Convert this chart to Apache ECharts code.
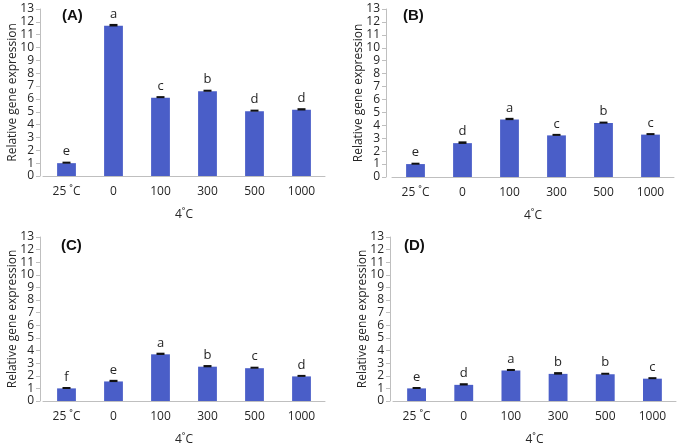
<!DOCTYPE html>
<html>
<head>
<meta charset="utf-8">
<script src="https://cdn.jsdelivr.net/npm/echarts@6/dist/echarts.min.js"></script>
<style>
html, body { margin: 0; padding: 0; background: #fff; }
#main { width: 677px; height: 447px; }
</style>
</head>
<body>
<div id="main"></div>
<script>
var categories = ['25 ˚C', '0', '100', '300', '500', '1000'];
var yTicks = [0, 1, 2, 3, 4, 5, 6, 7, 8, 9, 10, 11, 12, 13];

var valuesA = [1.0, 11.7, 6.1, 6.6, 5.05, 5.15];
var errorsA = [0.04, 0.06, 0.04, 0.04, 0.04, 0.05];
var lettersA = ['e', 'a', 'c', 'b', 'd', 'd'];

var valuesB = [1.0, 2.62, 4.45, 3.22, 4.17, 3.28];
var errorsB = [0.03, 0.06, 0.05, 0.04, 0.04, 0.04];
var lettersB = ['e', 'd', 'a', 'c', 'b', 'c'];

var valuesC = [1.0, 1.55, 3.7, 2.72, 2.6, 1.95];
var errorsC = [0.03, 0.05, 0.05, 0.05, 0.04, 0.04];
var lettersC = ['f', 'e', 'a', 'b', 'c', 'd'];

var valuesD = [1.0, 1.28, 2.42, 2.15, 2.12, 1.77];
var errorsD = [0.03, 0.05, 0.04, 0.06, 0.04, 0.04];
var lettersD = ['e', 'd', 'a', 'b', 'b', 'c'];

var panels = [
    { name: '(A)', values: valuesA, errors: errorsA, letters: lettersA },
    { name: '(B)', values: valuesB, errors: errorsB, letters: lettersB },
    { name: '(C)', values: valuesC, errors: errorsC, letters: lettersC },
    { name: '(D)', values: valuesD, errors: errorsD, letters: lettersD }
];

// grid boxes + y axis offsets
var grids = [
    { left: 43, right: 352, top: 9, bottom: 271 },
    { left: 392, right: 3, top: 9, bottom: 270 },
    { left: 43, right: 352, top: 237, bottom: 41 },
    { left: 393, right: 1, top: 237, bottom: 41 }
];
var yOffsets = [3, 6, 3, 3];
var titlePos = [[57, 3], [398, 3], [56, 233], [399, 233]];

var font = 'Open Sans';
var textColor = '#262626';
var barColor = '#4a5ec8';

var option = {
    animation: false,
    backgroundColor: '#fff',
    title: [],
    grid: [],
    xAxis: [],
    yAxis: [],
    series: []
};

for (var i = 0; i < panels.length; i++) {
    var p = panels[i];
    option.title.push({
        text: p.name,
        left: titlePos[i][0],
        top: titlePos[i][1],
        textStyle: { fontFamily: 'Liberation Sans', fontWeight: 'bold', fontSize: 15, color: '#111' }
    });
    option.grid.push(grids[i]);
    option.xAxis.push({
        type: 'category',
        gridIndex: i,
        data: categories,
        name: '4˚C',
        nameLocation: 'middle',
        nameGap: 33,
        nameMoveOverlap: false,
        nameTextStyle: { fontFamily: font, fontSize: 12, color: textColor },
        axisLine: { lineStyle: { color: '#bfbfbf', width: 1 } },
        axisTick: { show: false },
        axisLabel: { fontFamily: font, fontSize: 12, color: textColor, margin: 10, interval: 0 }
    });
    option.yAxis.push({
        type: 'value',
        gridIndex: i,
        min: 0,
        max: yTicks[yTicks.length - 1],
        interval: 1,
        offset: yOffsets[i],
        name: 'Relative gene expression',
        nameLocation: 'middle',
        nameGap: 21,
        nameMoveOverlap: false,
        nameTextStyle: { fontFamily: font, fontSize: 12, fontWeight: 500, color: textColor },
        axisLine: { show: true, lineStyle: { color: '#bfbfbf', width: 1 } },
        axisTick: { show: true, length: 4, lineStyle: { color: '#bfbfbf' } },
        axisLabel: { fontFamily: font, fontSize: 12, color: textColor, margin: 6 },
        splitLine: { show: false }
    });
    option.series.push({
        type: 'bar',
        xAxisIndex: i,
        yAxisIndex: i,
        data: p.values,
        barWidth: '40%',
        itemStyle: { color: barColor },
        label: {
            show: true,
            position: 'top',
            distance: 5,
            fontFamily: font,
            fontSize: 13,
            color: textColor,
            formatter: (function (letters) {
                return function (params) { return letters[params.dataIndex]; };
            })(p.letters)
        }
    });
    option.series.push({
        type: 'custom',
        xAxisIndex: i,
        yAxisIndex: i,
        z: 5,
        data: p.values.map(function (v, k) { return [k, v, p.errors[k]]; }),
        renderItem: function (params, api) {
            var x = api.value(0);
            var v = api.value(1);
            var e = api.value(2);
            var hi = api.coord([x, v + e]);
            var lo = api.coord([x, v - e]);
            var w = 4;
            return {
                type: 'rect',
                shape: { x: hi[0] - w, y: hi[1] - 1, width: w * 2, height: Math.max(2, lo[1] - hi[1] + 1) },
                style: { fill: '#111' }
            };
        }
    });
}

var myChart = echarts.init(document.getElementById('main'));
myChart.setOption(option, true);
</script>
</body>
</html>
